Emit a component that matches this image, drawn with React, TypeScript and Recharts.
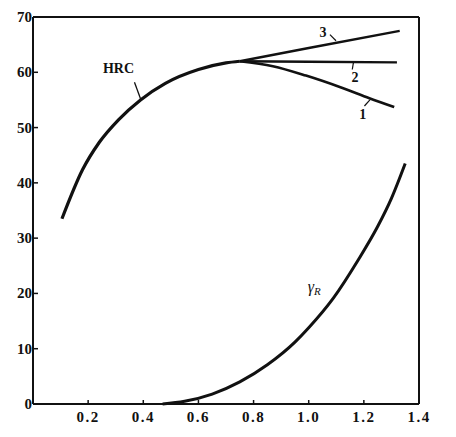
import { LineChart, Line, XAxis, YAxis, ReferenceLine, ReferenceDot } from "recharts";

// tempering curves: hardness HRC and retained austenite
const hrcX = [0.105, 0.18, 0.24, 0.31, 0.39, 0.48, 0.6, 0.7, 0.75];
const hrcY = [33.5, 42.4, 47.3, 51.4, 55.0, 58.0, 60.5, 61.7, 62.0];

const branch3X = [0.75, 1.0, 1.33];
const branch3Y = [62.0, 64.4, 67.5];

const branch2X = [0.75, 1.0, 1.32];
const branch2Y = [62.0, 61.9, 61.8];

const branch1X = [0.75, 0.87, 0.99, 1.12, 1.22, 1.31];
const branch1Y = [62.0, 61.1, 59.4, 57.2, 55.3, 53.7];

const gammaX = [0.47, 0.55, 0.65, 0.75, 0.85, 0.95, 1.0, 1.09, 1.18, 1.25, 1.3, 1.35];
const gammaY = [0, 0.5, 1.8, 4.0, 7.1, 11.2, 13.8, 19.2, 26.1, 32.1, 37.2, 43.5];

const xTicks = [0.2, 0.4, 0.6, 0.8, 1.0, 1.2, 1.4];
const leftTicks = [0, 10, 20, 30, 40, 50, 60, 70];
const rightTicks = [10, 20, 30, 40, 50, 60, 70];

const toPoints = (xs: number[], ys: number[]) => xs.map((x, i) => ({ x, y: ys[i] }));

const hrc = toPoints(hrcX, hrcY);
const branch1 = toPoints(branch1X, branch1Y);
const branch2 = toPoints(branch2X, branch2Y);
const branch3 = toPoints(branch3X, branch3Y);
const gamma = toPoints(gammaX, gammaY);

const font = "'Liberation Serif', 'DejaVu Serif', serif";
const ink = "#111";

const LeftTick = (props: any) => {
  const { x, y, payload } = props;
  return (
    <g>
      <line x1={x} y1={y} x2={x + 5} y2={y} stroke={ink} strokeWidth={1.5} />
      <text x={x - 1} y={y + 5} textAnchor="end" fontFamily={font} fontWeight="bold" fontSize={15} fill={ink}>
        {payload.value}
      </text>
    </g>
  );
};

const RightTick = (props: any) => {
  const { x, y, payload } = props;
  return (
    <g>
      <line x1={x - 6} y1={y} x2={x} y2={y} stroke={ink} strokeWidth={1.5} />
      <text x={x + 3} y={y + 5} textAnchor="start" fontFamily={font} fontWeight="bold" fontSize={15} fill={ink}>
        {payload.value}
      </text>
    </g>
  );
};

const BottomTick = (props: any) => {
  const { x, y, payload } = props;
  return (
    <g>
      <line x1={x} y1={y} x2={x} y2={y - 4} stroke={ink} strokeWidth={1.5} />
      <text x={x} y={y + 18} textAnchor="middle" fontFamily={font} fontWeight="bold" fontSize={15} letterSpacing={1.5} fill={ink}>
        {payload.value.toFixed(1)}
      </text>
    </g>
  );
};

const Label = ({ cx, cy, text }: any) => (
  <text x={cx} y={cy} textAnchor="middle" dominantBaseline="middle" fontFamily={font} fontWeight="bold" fontSize={14} fill={ink}>
    {text}
  </text>
);

const GammaLabel = ({ cx, cy }: any) => (
  <text x={cx} y={cy} textAnchor="middle" dominantBaseline="middle" fontFamily={font} fontStyle="italic" fontSize={16} fill={ink}>
    <tspan>γ</tspan>
    <tspan dy={4} fontSize={11}>R</tspan>
  </text>
);

export default function App() {
  const lineProps = {
    dataKey: "y",
    yAxisId: "left",
    stroke: ink,
    dot: false,
    activeDot: false,
    isAnimationActive: false,
  } as const;

  return (
    <div style={{ position: "absolute", left: 0, top: 0, background: "#fff" }}>
      <LineChart width={456} height={437} margin={{ top: 17, right: 0, bottom: 0, left: 0 }}>
        <XAxis
          dataKey="x"
          type="number"
          domain={[0, 1.4]}
          ticks={xTicks}
          height={33}
          tickSize={0}
          tickMargin={0}
          tickLine={false}
          tick={<BottomTick />}
          axisLine={{ stroke: ink, strokeWidth: 2 }}
        />
        <YAxis
          yAxisId="left"
          type="number"
          domain={[0, 70]}
          ticks={leftTicks}
          width={33}
          tickSize={0}
          tickMargin={0}
          tickLine={false}
          tick={<LeftTick />}
          axisLine={{ stroke: ink, strokeWidth: 2 }}
        />
        <YAxis
          yAxisId="right"
          orientation="right"
          type="number"
          domain={[0, 70]}
          ticks={rightTicks}
          width={37}
          tickSize={0}
          tickMargin={0}
          tickLine={false}
          tick={<RightTick />}
          axisLine={{ stroke: ink, strokeWidth: 2 }}
        />
        <ReferenceLine yAxisId="left" y={70} stroke={ink} strokeWidth={2} />

        <Line {...lineProps} data={hrc} type="monotone" strokeWidth={3.2} />
        <Line {...lineProps} data={branch3} type="linear" strokeWidth={2.4} />
        <Line {...lineProps} data={branch2} type="linear" strokeWidth={2.4} />
        <Line {...lineProps} data={branch1} type="monotone" strokeWidth={2.6} />
        <Line {...lineProps} data={gamma} type="monotone" strokeWidth={3} />

        {/* leaders and labels */}
        <ReferenceLine yAxisId="left" segment={[{ x: 0.368, y: 58.2 }, { x: 0.39, y: 55.2 }]} stroke={ink} strokeWidth={1.3} />
        <ReferenceDot yAxisId="left" x={0.31} y={60.4} r={0} shape={(p: any) => <Label {...p} text="HRC" />} />

        <ReferenceLine yAxisId="left" segment={[{ x: 1.077, y: 66.8 }, { x: 1.099, y: 65.7 }]} stroke={ink} strokeWidth={1.2} />
        <ReferenceDot yAxisId="left" x={1.052} y={67.0} r={0} shape={(p: any) => <Label {...p} text="3" />} />

        <ReferenceLine yAxisId="left" segment={[{ x: 1.158, y: 60.5 }, { x: 1.162, y: 61.7 }]} stroke={ink} strokeWidth={1.2} />
        <ReferenceDot yAxisId="left" x={1.168} y={58.8} r={0} shape={(p: any) => <Label {...p} text="2" />} />

        <ReferenceLine yAxisId="left" segment={[{ x: 1.202, y: 53.9 }, { x: 1.222, y: 55.0 }]} stroke={ink} strokeWidth={1.2} />
        <ReferenceDot yAxisId="left" x={1.196} y={52.2} r={0} shape={(p: any) => <Label {...p} text="1" />} />

        <ReferenceDot yAxisId="left" x={1.02} y={21.0} r={0} shape={(p: any) => <GammaLabel {...p} />} />
      </LineChart>
    </div>
  );
}
